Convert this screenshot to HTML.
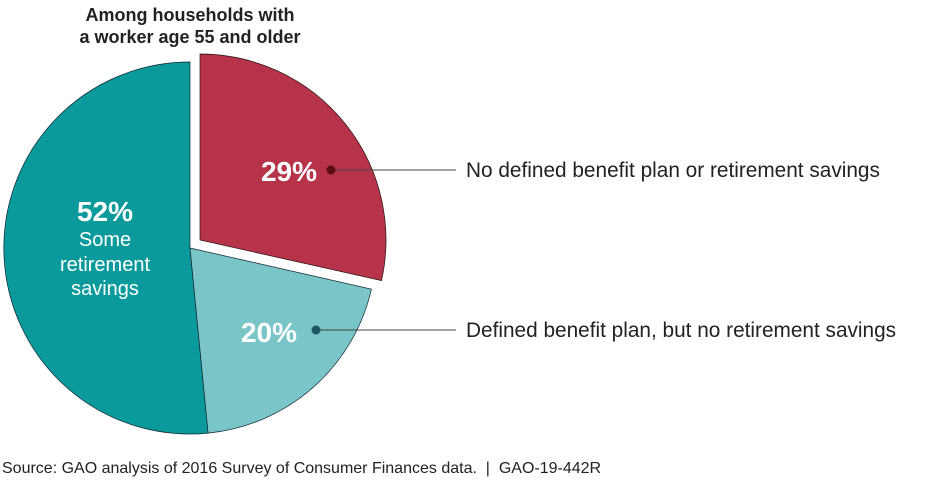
<!DOCTYPE html>
<html><head><style>
body{margin:0;background:#fff;}
svg{display:block;font-family:"Liberation Sans",Arial,sans-serif;}
</style></head><body>
<svg width="945" height="480" viewBox="0 0 945 480">
<rect width="945" height="480" fill="#fff"/>
<text x="190" y="21" font-size="18" font-weight="bold" text-anchor="middle" fill="#222">Among households with</text>
<text x="190" y="43" font-size="18" font-weight="bold" text-anchor="middle" fill="#222">a worker age 55 and older</text>
<path d="M190,248 L208.1,433.1 A186,186 0 1 1 190,62 Z" fill="#0b9a9b" stroke="#123" stroke-width="0.7"/>
<path d="M190,248 L371.4,289.2 A186,186 0 0 1 208.1,433.1 Z" fill="#79c5c7" stroke="#123" stroke-width="0.7"/>
<path d="M200,240 L200,54 A186,186 0 0 1 381.5,280.6 Z" fill="#b6334a" stroke="#211" stroke-width="0.7"/>
<text x="289" y="181" font-size="28" font-weight="bold" fill="#fff" text-anchor="middle">29%</text>
<text x="269" y="342" font-size="28" font-weight="bold" fill="#fff" text-anchor="middle">20%</text>
<text x="105" y="221" font-size="28" font-weight="bold" fill="#fff" text-anchor="middle">52%</text>
<text x="105" y="246" font-size="20" fill="#fff" text-anchor="middle">Some</text>
<text x="105" y="271" font-size="20" fill="#fff" text-anchor="middle">retirement</text>
<text x="105" y="295" font-size="20" fill="#fff" text-anchor="middle">savings</text>
<line x1="331" y1="170" x2="456" y2="170" stroke="#444" stroke-width="1"/>
<circle cx="331" cy="170" r="4.5" fill="#5a0c10"/>
<line x1="316" y1="330" x2="456" y2="330" stroke="#444" stroke-width="1"/>
<circle cx="316" cy="330" r="4.5" fill="#1d5560"/>
<text x="466" y="177" font-size="20.8" fill="#222">No defined benefit plan or retirement savings</text>
<text x="466" y="337" font-size="20.8" fill="#222">Defined benefit plan, but no retirement savings</text>
<text x="2" y="473" font-size="16" fill="#222" xml:space="preserve">Source: GAO analysis of 2016 Survey of Consumer Finances data.  |  GAO-19-442R</text>
</svg>
</body></html>
